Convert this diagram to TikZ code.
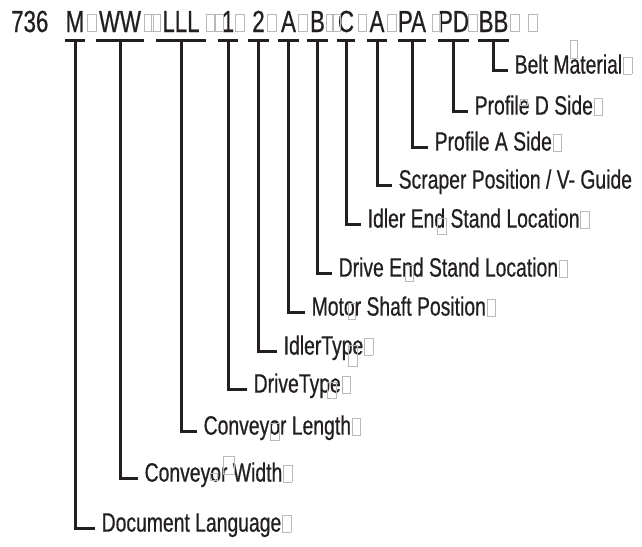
\documentclass[tikz,border=0pt]{standalone}
\usepackage{fontspec}
\setmainfont{Liberation Sans}[FakeStretch=0.73,FakeBold=0.6]
\definecolor{ink}{HTML}{231F20}
\newcommand\tofu{\kern0.8pt{\color{gray!55}\fboxsep=0pt\fboxrule=0.6pt\fbox{\rule{0pt}{0.6em}\rule{0.3em}{0pt}}}}
\begin{document}
\begin{tikzpicture}[x=1pt,y=-1pt,
  code/.style={anchor=base,inner sep=0pt,text depth=0pt,text=ink,font=\fontsize{30.5}{31}\selectfont},
  lab/.style={anchor=west,inner ysep=0pt,inner xsep=6.5pt,text height=0.72em,text depth=0pt,text=ink,font=\fontsize{26.5}{28}\selectfont},
  bar/.style={draw=ink,line width=3.2pt},
  conn/.style={draw=ink,line width=3pt,line join=miter},
  tofubox/.style={draw=gray!55,line width=0.6pt}]
\useasboundingbox (0,0) rectangle (642,546);
% top code line
\node[code,anchor=base west] (num) at (11,32) {736};
\node[code,minimum width=20pt] (cM) at (75,32) {M};
\node[code,minimum width=47pt] (cW) at (120,32) {WW};
\node[code,minimum width=50pt] (cL) at (181,32) {LLL};
\node[code,minimum width=20pt] (c1) at (228,32) {1};
\node[code,minimum width=20pt] (c2) at (258.5,32) {2};
\node[code,minimum width=20pt] (cA) at (288.5,32) {A};
\node[code,minimum width=20pt] (cB) at (317.5,32) {B};
\node[code,minimum width=18pt] (cC) at (346,32) {C};
\node[code,minimum width=20pt] (cS) at (377,32) {A};
\node[code,minimum width=28pt] (cPA) at (412,32) {PA};
\node[code,minimum width=27pt] (cPD) at (453.5,32) {PD};
\node[code,minimum width=30pt] (cBB) at (493.5,32) {BB};
% tofu boxes in the code line
\foreach \a/\b in {87/96,144/153,151/160,206/215,214/223,235/244,267/276,298/307,326/333,332/340,358/366,387/396,432/440,468/477,510/519,528/537}
  \draw[tofubox] (\a,14) rectangle (\b,31);
% labels
\node[lab] (lBM) at (508,70) {Belt Material\tofu};
\node[lab] (lPD) at (468,111) {Profile D Side\tofu};
\node[lab] (lPA) at (428,147) {Profile A Side\tofu};
\node[lab] (lSP) at (392,185) {Scraper Position / V- Guide};
\node[lab] (lIE) at (361,224) {Idler End Stand Location\tofu};
\node[lab] (lDE) at (332,273) {Drive End Stand Location\tofu};
\node[lab] (lMS) at (305,312) {Motor Shaft Position\tofu};
\node[lab] (lIT) at (277,351) {IdlerType\tofu};
\node[lab] (lDT) at (247,389) {DriveType\tofu};
\node[lab] (lCL) at (197,431) {Conveyor Length\tofu};
\node[lab] (lCW) at (138,478) {Conveyor Width\tofu};
\node[lab] (lDL) at (95,528) {Document Language\tofu};
% stray tofu boxes inside labels
\draw[tofubox] (570,40) rectangle (577,58);
\draw[tofubox] (520,99) rectangle (527,105);
\draw[tofubox] (437,218) rectangle (446,234);
\draw[tofubox] (405,265) rectangle (413,281);
\draw[tofubox] (348,303) rectangle (355,319);
\draw[tofubox] (348,345) rectangle (357,366);
\draw[tofubox] (327,382) rectangle (336,398);
\draw[tofubox] (270,423) rectangle (279,440);
\draw[tofubox] (210,473) rectangle (217,480);
\draw[tofubox] (223,456) rectangle (234,474);
% bars and connectors
\foreach \c/\l in {cM/lDL,cW/lCW,cL/lCL,c1/lDT,c2/lIT,cA/lMS,cB/lDE,cC/lIE,cS/lSP,cPA/lPA,cPD/lPD,cBB/lBM}{
  \draw[bar] ([yshift=-8pt]\c.south west) -- ([yshift=-8pt]\c.south east);
  \draw[conn] ([yshift=-6.5pt]\c.south) |- (\l.west);
}
\end{tikzpicture}
\end{document}
